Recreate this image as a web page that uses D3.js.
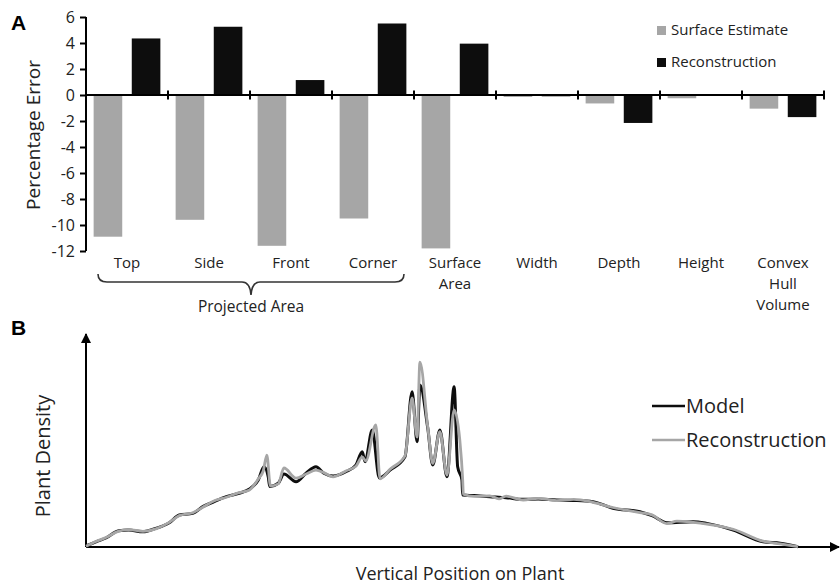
<!DOCTYPE html>
<html>
<head>
<meta charset="utf-8">
<script src="https://cdn.jsdelivr.net/npm/d3@7"></script>
<style>
  body { margin: 0; background: #fff; }
  text { font-family: "Open Sans", sans-serif; fill: #222; }
</style>
</head>
<body>
<div id="chart"></div>
<script>
// panel A data
var categories = ["Top", "Side", "Front", "Corner", "Surface Area", "Width", "Depth", "Height", "Convex Hull Volume"]
var surfaceEstimate = [-10.9, -9.6, -11.6, -9.5, -11.8, -0.15, -0.65, -0.25, -1.05]
var reconstruction = [4.35, 5.25, 1.15, 5.5, 3.95, -0.1, -2.15, 0, -1.7]
var yTicksA = [6, 4, 2, 0, -2, -4, -6, -8, -10, -12]

// panel B data (position, density)
var modelX = [0, 1.4, 2.8, 4.6, 6.0, 8.0, 9.8, 11.7, 13.1, 15.0, 16.4, 17.8, 19.7, 21.5, 22.9, 24.2, 25.0, 25.6, 25.8, 27.0, 27.8, 29.5, 30.9, 32.3, 33.4, 34.7, 36.5, 37.9, 38.8, 39.2, 40.2, 41.2, 42.7, 44.8, 45.8, 46.5, 46.9, 48.0, 48.7, 49.7, 50.7, 51.7, 52.2, 52.8, 52.9, 54.5, 56.7, 59.0, 61.4, 63.5, 66.1, 68.5, 71.2, 74.0, 77.8, 79.5, 81.6, 85.3, 87.2, 90.9, 95.1, 97.5, 100]
var modelY = [0.5, 2.5, 4.3, 7.8, 8.1, 7.3, 8.9, 11.6, 15.3, 16.1, 19.3, 21.4, 24.1, 25.7, 27.6, 32.1, 38.4, 33.5, 28.9, 30.5, 34.9, 31.2, 35.3, 38.4, 35.3, 34.0, 36.0, 39.2, 45.6, 40.8, 56.0, 33.0, 36.8, 43.2, 74.3, 50.4, 77.5, 56.9, 39.2, 56.0, 33.6, 76.7, 38.4, 32.1, 24.9, 24.6, 24.1, 23.6, 22.8, 23.0, 22.5, 22.3, 21.7, 18.5, 16.9, 15.0, 11.6, 12.1, 11.3, 8.1, 2.5, 1.8, 0.1]
var reconX = [0, 1.4, 2.8, 4.6, 6.0, 8.0, 9.8, 11.7, 13.1, 15.0, 16.4, 17.8, 19.7, 21.5, 22.9, 24.2, 24.9, 25.4, 25.9, 27.0, 27.8, 29.5, 30.9, 32.3, 33.4, 34.7, 36.5, 37.9, 38.8, 39.3, 40.7, 41.3, 42.7, 44.8, 45.8, 46.5, 46.9, 48.0, 48.7, 49.7, 50.7, 51.7, 52.5, 52.9, 53.0, 54.5, 56.7, 58.0, 59.0, 61.4, 63.5, 66.1, 68.5, 71.2, 74.0, 77.8, 79.5, 81.6, 83.0, 85.3, 87.2, 90.9, 95.1, 97.5, 100]
var reconY = [0.3, 2.6, 4.5, 7.6, 8.3, 7.5, 8.7, 11.8, 15.0, 16.4, 19.0, 21.8, 23.8, 26.0, 27.2, 32.6, 36.5, 44.0, 29.2, 30.2, 37.8, 33.0, 34.9, 36.8, 35.6, 33.6, 36.4, 38.6, 43.1, 41.2, 58.4, 32.6, 37.2, 43.6, 71.3, 52.6, 88.5, 57.4, 40.0, 55.2, 34.4, 65.6, 51.2, 32.6, 25.3, 24.2, 24.5, 23.0, 24.3, 22.5, 23.3, 22.2, 22.8, 21.4, 18.9, 16.5, 15.4, 11.2, 12.4, 11.8, 11.0, 8.5, 2.8, 1.5, 0.2]

var width = 840
var height = 584
var grayColor = "#a6a6a6"
var darkColor = "#0d0d0d"

var svg = d3.select("#chart")
  .append("svg")
  .attr("width", width)
  .attr("height", height)

// ---------- Panel A ----------
var xA = d3.scaleBand().domain(categories).range([86, 824])
var yA = d3.scaleLinear().domain([-12, 6]).range([251, 17])
var inner = d3.scaleBand().domain(["s", "r"]).range([0, xA.bandwidth()]).paddingInner(0.25).paddingOuter(0.2)

svg.append("text")
  .attr("x", 11).attr("y", 30)
  .style("font-family", "Arial, 'Liberation Sans', sans-serif")
  .style("font-weight", "bold")
  .style("font-size", "21px")
  .style("fill", "#000")
  .text("A")

var groups = svg.selectAll(".cat")
  .data(categories)
  .enter()
  .append("g")
  .attr("class", "cat")
  .attr("transform", function (d) { return "translate(" + xA(d) + ",0)" })

groups.append("rect")
  .attr("x", inner("s"))
  .attr("width", inner.bandwidth())
  .attr("y", function (d, i) { return yA(Math.max(0, surfaceEstimate[i])) })
  .attr("height", function (d, i) { return Math.abs(yA(surfaceEstimate[i]) - yA(0)) })
  .style("fill", grayColor)

groups.append("rect")
  .attr("x", inner("r"))
  .attr("width", inner.bandwidth())
  .attr("y", function (d, i) { return yA(Math.max(0, reconstruction[i])) })
  .attr("height", function (d, i) { return Math.abs(yA(reconstruction[i]) - yA(0)) })
  .style("fill", darkColor)

// y axis (plain hyphen for negatives, like the original)
var yAxisA = d3.axisLeft(yA).tickValues(yTicksA).tickSize(6).tickPadding(5)
  .tickFormat(function (d) { return String(d) })
var gy = svg.append("g").attr("transform", "translate(86,0)").call(yAxisA)
gy.select(".domain").attr("d", "M0," + yA(6) + "V" + yA(-12)).style("stroke", "#000").style("stroke-width", 2)
gy.selectAll(".tick line").style("stroke", "#000").style("stroke-width", 2)
gy.selectAll(".tick text").style("font-size", "16px").style("fill", "#222").style("font-family", "'Open Sans', sans-serif")

// x axis at zero
svg.append("line")
  .attr("x1", 86).attr("x2", 824)
  .attr("y1", yA(0)).attr("y2", yA(0))
  .style("stroke", "#000").style("stroke-width", 2)

var boundaries = categories.map(function (d) { return xA(d) + xA.bandwidth() })
svg.selectAll(".xtick")
  .data(boundaries)
  .enter()
  .append("line")
  .attr("x1", function (d) { return d }).attr("x2", function (d) { return d })
  .attr("y1", yA(0) - 4.5).attr("y2", yA(0) + 4.5)
  .style("stroke", "#000").style("stroke-width", 2)

// category labels, multi-line
var labelLines = {
  "Surface Area": ["Surface", "Area"],
  "Convex Hull Volume": ["Convex", "Hull", "Volume"]
}
var labels = svg.selectAll(".catlabel")
  .data(categories)
  .enter()
  .append("text")
  .attr("class", "catlabel")
  .attr("text-anchor", "middle")
  .attr("x", function (d) { return xA(d) + xA.bandwidth() / 2 })
  .attr("y", 268)
  .style("font-size", "15px")

labels.each(function (d) {
  var lines = labelLines[d] || [d]
  var t = d3.select(this)
  lines.forEach(function (l, i) {
    t.append("tspan")
      .attr("x", xA(d) + xA.bandwidth() / 2)
      .attr("dy", i == 0 ? 0 : 21)
      .text(l)
  })
})

// brace under the projected area group
var bx0 = xA("Top") + 12
var bx1 = xA("Corner") + xA.bandwidth() - 10
var bm = (bx0 + bx1) / 2
svg.append("path")
  .attr("d", "M" + bx0 + ",274 Q" + bx0 + ",282 " + (bx0 + 9) + ",282 L" + (bm - 9) + ",282 Q" + (bm - 1) + ",282 " + bm + ",295" +
    " Q" + (bm + 1) + ",282 " + (bm + 9) + ",282 L" + (bx1 - 9) + ",282 Q" + bx1 + ",282 " + bx1 + ",274")
  .style("fill", "none")
  .style("stroke", "#333")
  .style("stroke-width", 1.6)

svg.append("text")
  .attr("x", bm).attr("y", 312)
  .attr("text-anchor", "middle")
  .style("font-size", "15.5px")
  .text("Projected Area")

svg.append("text")
  .attr("transform", "translate(40,135) rotate(-90)")
  .attr("text-anchor", "middle")
  .style("font-size", "19px")
  .text("Percentage Error")

// legend A
var legendA = [{ name: "Surface Estimate", color: grayColor }, { name: "Reconstruction", color: darkColor }]
var la = svg.selectAll(".legA")
  .data(legendA)
  .enter()
  .append("g")
  .attr("transform", function (d, i) { return "translate(657," + (26 + i * 32) + ")" })
la.append("rect").attr("width", 9).attr("height", 9).style("fill", function (d) { return d.color })
la.append("text").attr("x", 14).attr("y", 9).style("font-size", "15px").text(function (d) { return d.name })

// ---------- Panel B ----------
var xB = d3.scaleLinear().domain([0, 100]).range([86, 798])
var yB = d3.scaleLinear().domain([0, 100]).range([547, 338])

svg.append("text")
  .attr("x", 11).attr("y", 335)
  .style("font-family", "Arial, 'Liberation Sans', sans-serif")
  .style("font-weight", "bold")
  .style("font-size", "21px")
  .style("fill", "#000")
  .text("B")

var defs = svg.append("defs")
defs.append("marker")
  .attr("id", "arrow")
  .attr("viewBox", "0 -5 10 10")
  .attr("refX", 9).attr("refY", 0)
  .attr("markerWidth", 5).attr("markerHeight", 5)
  .attr("markerUnits", "strokeWidth")
  .attr("orient", "auto")
  .append("path")
  .attr("d", "M0,-5L10,0L0,5Z")
  .style("fill", "#000")

svg.append("line")
  .attr("x1", 86).attr("y1", 547).attr("x2", 86).attr("y2", 334)
  .style("stroke", "#000").style("stroke-width", 2)
  .attr("marker-end", "url(#arrow)")
svg.append("line")
  .attr("x1", 86).attr("y1", 547).attr("x2", 839).attr("y2", 547)
  .style("stroke", "#000").style("stroke-width", 2)
  .attr("marker-end", "url(#arrow)")

var line = d3.line()
  .x(function (d) { return xB(d[0]) })
  .y(function (d) { return yB(d[1]) })
  .curve(d3.curveMonotoneX)

var modelData = d3.zip(modelX, modelY)
var reconData = d3.zip(reconX, reconY)

svg.append("path")
  .datum(modelData)
  .attr("d", line)
  .style("fill", "none")
  .style("stroke", darkColor)
  .style("stroke-width", 3)
  .style("stroke-linejoin", "round")

svg.append("path")
  .datum(reconData)
  .attr("d", line)
  .style("fill", "none")
  .style("stroke", grayColor)
  .style("stroke-width", 2.8)
  .style("stroke-linejoin", "round")

// legend B
var legendB = [{ name: "Model", color: darkColor }, { name: "Reconstruction", color: grayColor }]
var lb = svg.selectAll(".legB")
  .data(legendB)
  .enter()
  .append("g")
  .attr("transform", function (d, i) { return "translate(652," + (406 + i * 34) + ")" })
lb.append("line").attr("x1", 0).attr("x2", 33).style("stroke", function (d) { return d.color }).style("stroke-width", 2.6)
lb.append("text").attr("x", 34).attr("y", 7).style("font-size", "20px").text(function (d) { return d.name })

svg.append("text")
  .attr("transform", "translate(50,456) rotate(-90)")
  .attr("text-anchor", "middle")
  .style("font-size", "20px")
  .text("Plant Density")

svg.append("text")
  .attr("x", 460).attr("y", 580)
  .attr("text-anchor", "middle")
  .style("font-size", "18px")
  .text("Vertical Position on Plant")
</script>
</body>
</html>
